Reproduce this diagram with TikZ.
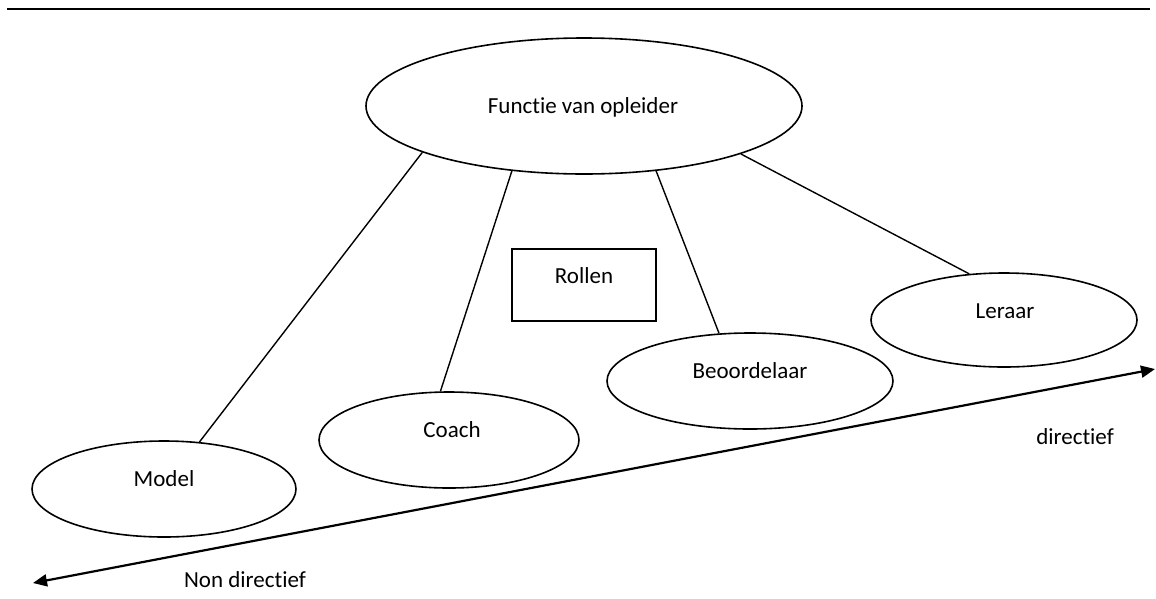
\documentclass[tikz,border=0pt]{standalone}
\usepackage{fontspec}
\setmainfont{Carlito}[Ligatures=NoCommon]
\usetikzlibrary{shapes.geometric,arrows.meta}
\begin{document}
\begin{tikzpicture}[x=1pt,y=-1pt,
  role/.style={ellipse,draw,line width=1.6pt,inner sep=0pt},
  lbl/.style={anchor=base,inner sep=0pt,font=\fontsize{23}{26}\selectfont},
  link/.style={line width=1.4pt},
  axis/.style={line width=2.2pt,{Triangle[length=14pt,width=12pt]}-{Triangle[length=14pt,width=12pt]}}]
\useasboundingbox (0,0) rectangle (1156,598);

% header rule
\draw[line width=2.4pt] (7,9) -- (1150,9);

% main concept and the four roles
\node[role,minimum width=436pt,minimum height=136pt] (func) at (584,106) {};
\node[role,minimum width=264pt,minimum height=96pt] (model) at (164,489) {};
\node[role,minimum width=260pt,minimum height=96pt] (coach) at (449,440) {};
\node[role,minimum width=286pt,minimum height=96pt] (beoord) at (750,381) {};
\node[role,minimum width=266pt,minimum height=94pt] (leraar) at (1004,320) {};
\node[draw,line width=1.6pt,minimum width=144pt,minimum height=72pt,inner sep=0pt] (rollen) at (584,285) {};

\node[lbl] (func-t) at (583,113) {Functie van opleider};
\node[lbl] (model-t) at (164,486) {Model};
\node[lbl] (coach-t) at (452,437) {Coach};
\node[lbl] (beoord-t) at (750,378) {Beoordelaar};
\node[lbl] (leraar-t) at (1005,318) {Leraar};
\node[lbl] (rollen-t) at (584,283) {Rollen};

% connectors from the function to each role
\draw[link] (func.196.9) -- (model.53.3);
\draw[link] (func.222.5) -- (coach.100.8);
\draw[link] (func.318.8) -- (beoord.123.7);
\draw[link] (func.343.2) -- (leraar.127.5);

% directive axis
\coordinate (nondir) at (33,583);
\coordinate (dir) at (1155,369);
\draw[axis] (nondir) -- (dir);
\node[lbl] (dir-t) at (1075,444) {directief};
\node[lbl] (nondir-t) at (245,587) {Non directief};
\end{tikzpicture}
\end{document}
